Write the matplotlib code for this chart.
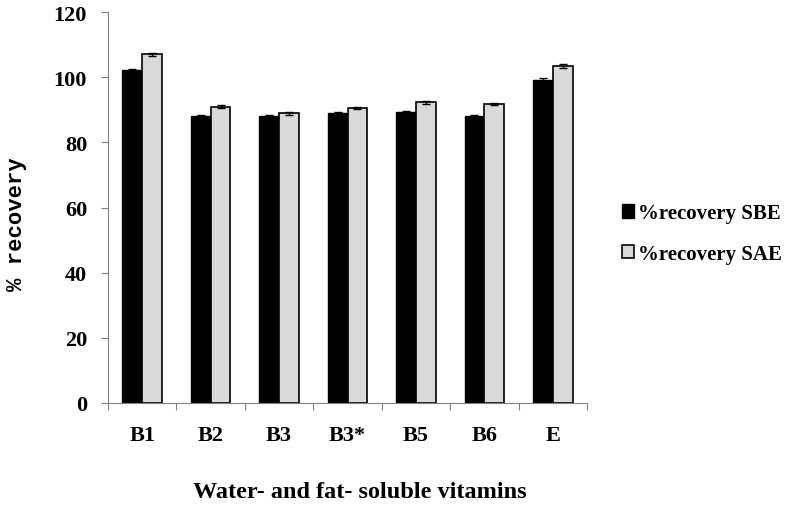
import matplotlib.pyplot as plt
import numpy as np

categories = ["B1", "B2", "B3", "B3*", "B5", "B6", "E"]
sbe = [102.2, 88.2, 88.2, 89.0, 89.4, 88.2, 99.3]
sae = [107.1, 91.0, 88.9, 90.6, 92.3, 91.8, 103.5]
sbe_err = [0.4, 0.3, 0.3, 0.3, 0.3, 0.3, 0.4]
sae_err = [0.5, 0.4, 0.4, 0.4, 0.4, 0.4, 0.5]
yticks = [0, 20, 40, 60, 80, 100, 120]

serif = "Liberation Serif"

fig = plt.figure(figsize=(7.88, 5.06), dpi=100)
ax = fig.add_axes([0.137, 0.2016, 0.608, 0.7724])

x = np.arange(len(categories))
w = 0.29
ax.bar(x - w / 2, sbe, w, color="black", edgecolor="black", linewidth=1,
       yerr=sbe_err, capsize=3, error_kw=dict(ecolor="black", elinewidth=1, capthick=1),
       label="%recovery SBE")
ax.bar(x + w / 2, sae, w, color="#d9d9d9", edgecolor="black", linewidth=1.2,
       yerr=sae_err, capsize=3, error_kw=dict(ecolor="black", elinewidth=1, capthick=1),
       label="%recovery SAE")

ax.set_xlim(-0.5, len(categories) - 0.5)
ax.set_ylim(0, 120)
ax.set_yticks(yticks)
ax.set_yticklabels([str(v) for v in yticks], fontfamily=serif, fontweight="bold", fontsize=16)

# category names sit between the boundary ticks
ax.set_xticks(np.arange(len(categories) + 1) - 0.5)
ax.set_xticklabels([])
ax.set_xticks(x, minor=True)
ax.set_xticklabels(categories, minor=True, fontfamily=serif, fontweight="bold", fontsize=16)
ax.tick_params(axis="x", which="minor", length=0, pad=16)
ax.tick_params(axis="x", which="major", length=5, color="#808080")
ax.tick_params(axis="y", length=5, color="#808080", pad=10)

for s in ["top", "right"]:
    ax.spines[s].set_visible(False)
for s in ["left", "bottom"]:
    ax.spines[s].set_color("#808080")

ax.set_xlabel("Water- and fat- soluble vitamins", fontfamily=serif, fontweight="bold",
              fontsize=17.5)
ax.xaxis.set_label_coords(0.526, -0.2)
ax.set_ylabel("% recovery", fontfamily="Liberation Mono", fontweight="bold", fontsize=16)
ax.yaxis.set_label_coords(-0.169, 0.46)

fig.legend(loc="center left", bbox_to_anchor=(0.765, 0.536), frameon=False,
           prop=dict(family=serif, weight="bold", size=15),
           handlelength=0.6, handleheight=0.6, handletextpad=0.2, labelspacing=1.0)

fig.savefig("out.png", dpi=100)
